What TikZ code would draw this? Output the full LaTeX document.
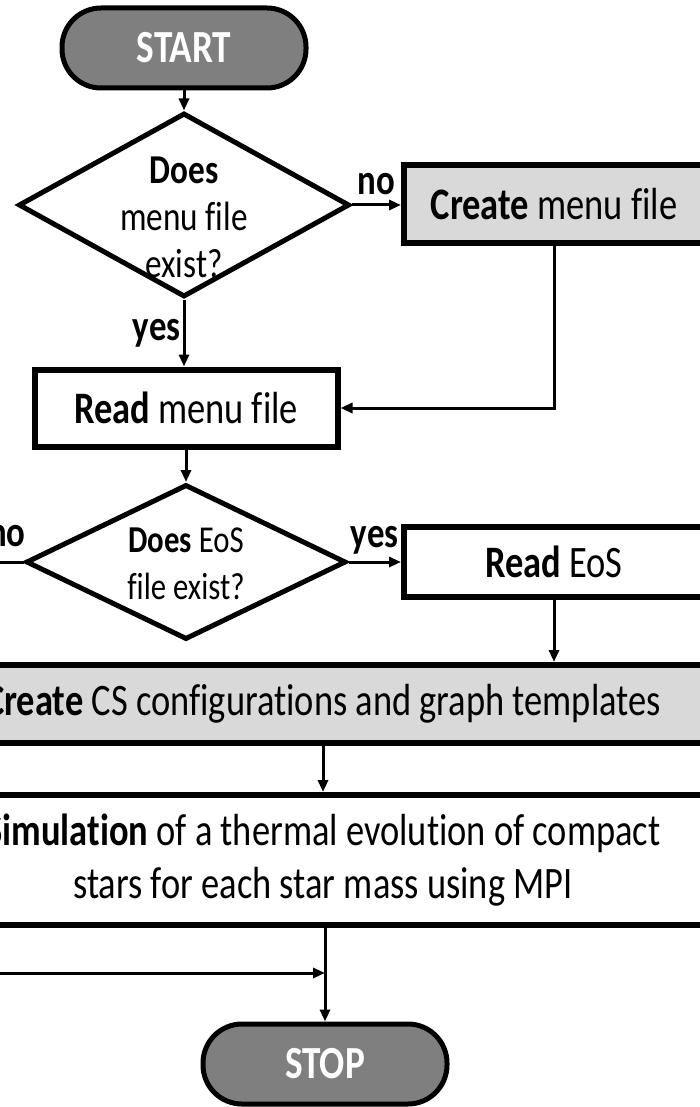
\documentclass[tikz,border=0pt]{standalone}
\usepackage{fontspec}
\setmainfont{Carlito}[FakeStretch=0.81, Ligatures=NoCommon]
\usepackage{xcolor}
\usetikzlibrary{shapes.geometric}
\usetikzlibrary{arrows.meta}

\definecolor{termgray}{HTML}{7F7F7F}
\definecolor{boxgray}{HTML}{D9D9D9}

\begin{document}
\begin{tikzpicture}[x=1pt, y=-1pt,
		terminal/.style={draw, line width=5pt, fill=termgray, rounded corners=39pt, inner sep=0pt,
			minimum width=244pt, minimum height=80pt, text=white, font=\fontsize{46}{50}\selectfont\bfseries},
		decision/.style={draw, line width=5pt, diamond, inner sep=0pt},
		dtext/.style={align=center, inner sep=0pt},
		process/.style={draw, line width=6pt, rectangle, inner sep=0pt, font=\fontsize{45}{53}\selectfont},
		flow/.style={line width=3pt, -{Triangle[length=12pt, width=10pt]}},
		answer/.style={font=\fontsize{43}{48}\selectfont\bfseries, inner sep=2pt}]
			\useasboundingbox (0,0) rectangle (700,1107);
			\clip (0,0) rectangle (700,1107);

			\node[terminal] (start) at (184,48){START};

			\node[decision, minimum width=331pt, minimum height=184pt] (menuq) at (184,205){};
			\node[dtext, font=\fontsize{41}{47}\selectfont] (menuqtext) at (184,217){\textbf{Does}\\menu file\\exist?};

			\node[process, fill=boxgray, minimum width=300pt, minimum height=77pt] (mkmenu) at (554,204){\textbf{Create} menu file};
			\node[process, minimum width=303pt, minimum height=77pt] (rdmenu) at (186,408){\textbf{Read} menu file};

			\node[decision, minimum width=320pt, minimum height=155pt] (eosq) at (186,562){};
			\node[dtext, font=\fontsize{38}{47}\selectfont] (eosqtext) at (186,564){\textbf{Does} EoS\\file exist?};

			\node[process, minimum width=300pt, minimum height=70pt] (rdeos) at (554,562){\textbf{Read} EoS};
			\node[process, fill=boxgray, minimum width=820pt, minimum height=78pt] (mkcs) at (323,704){\textbf{Create} CS configurations and graph templates};
			\node[process, align=center, minimum width=820pt, minimum height=130pt] (sim) at (323,860){\textbf{Simulation} of a thermal evolution of compact\\stars for each star mass using MPI};

			\node[terminal] (stop) at (325,1064){STOP};

			\coordinate (noeos) at (-40,562);
			\coordinate (fromleft) at (-40,973);
			\coordinate (join) at (325,973);

			\draw[flow] (start) -- (menuq);
			\draw[flow] (menuq.east) -- (menuq.east -| mkmenu.west) node[midway, above=7pt, answer]{no};
			\draw[flow] (menuq.south) -- (menuq.south |- rdmenu.north) node[midway, left, answer]{yes};
			\draw[flow] (mkmenu.south) |- (rdmenu.east);
			\draw[flow] (rdmenu.south) -- (eosq.north);
			\draw[flow] (eosq.east) -- (rdeos.west) node[midway, above=4pt, answer]{yes};
			\draw[line width=3pt] (eosq.west) -- (noeos) node[pos=0.26, above=12pt, answer]{no};
			\draw[flow] (rdeos.south) -- (rdeos.south |- mkcs.north);
			\draw[flow] (mkcs.south -| sim.north) -- (sim.north);
			\draw[flow] (sim.south -| stop.north) -- (stop.north);
			\draw[flow] (fromleft) -- (join);
		\end{tikzpicture}
\end{document}
